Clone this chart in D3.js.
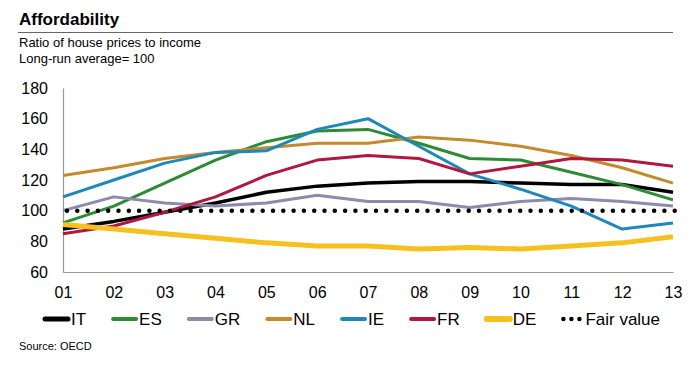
<!DOCTYPE html>
<html>
<head>
<meta charset="utf-8">
<script src="https://cdn.jsdelivr.net/npm/d3@7"></script>
<style>
  body { margin: 0; background: #fff; }
  svg { display: block; font-family: "Liberation Sans", Arial, sans-serif; }
</style>
</head>
<body>
<svg id="chart" width="699" height="368"></svg>
<script>
// years on the x axis (20xx)
var years = ["01", "02", "03", "04", "05", "06", "07", "08", "09", "10", "11", "12", "13"];
var yTicks = [60, 80, 100, 120, 140, 160, 180];

// ratio of house prices to income, long-run average = 100
var IT = [88, 93, 99, 105, 112, 116, 118, 119, 119, 118, 117, 117, 112];
var ES = [92, 103, 118, 133, 145, 152, 153, 144, 134, 133, 125, 117, 107];
var GR = [100, 109, 105, 103, 105, 110, 106, 106, 102, 106, 108, 106, 103];
var NL = [123, 128, 134, 138, 141, 144, 144, 148, 146, 142, 136, 128, 118];
var IE = [109, 120, 131, 138, 139, 153, 160, 142, 124, 114, 103, 88, 92];
var FR = [85, 90, 99, 109, 123, 133, 136, 134, 124, 129, 134, 133, 129];
var DE = [91, 88, 85, 82, 79, 77, 77, 75, 76, 75, 77, 79, 83];
var fairValue = [100, 100, 100, 100, 100, 100, 100, 100, 100, 100, 100, 100, 100];

var series = [
  {name: "IT", values: IT, color: "#000000", width: 3.5},
  {name: "ES", values: ES, color: "#2e8b35", width: 3},
  {name: "GR", values: GR, color: "#8b8bae", width: 3},
  {name: "NL", values: NL, color: "#c48a2c", width: 3},
  {name: "IE", values: IE, color: "#1f88ba", width: 3},
  {name: "FR", values: FR, color: "#b0183f", width: 3},
  {name: "DE", values: DE, color: "#f6c11e", width: 5}
];

var svg = d3.select("#chart");

// header
svg.append("text").attr("x", 19).attr("y", 25)
  .style("font-size", "17px").style("font-weight", "bold").text("Affordability");
svg.append("line").attr("x1", 18).attr("x2", 673).attr("y1", 32.5).attr("y2", 32.5)
  .attr("stroke", "#666").attr("stroke-width", 1.2);
svg.append("text").attr("x", 19).attr("y", 47).style("font-size", "13px").text("Ratio of house prices to income");
svg.append("text").attr("x", 19).attr("y", 63).style("font-size", "13px").text("Long-run average= 100");

var x = d3.scalePoint().domain(years).range([63, 673]);
var y = d3.scaleLinear().domain([60, 180]).range([272, 88]);

// axes, no tick marks
var yAxis = svg.append("g").attr("transform", "translate(63,0)")
  .call(d3.axisLeft(y).tickValues(yTicks).tickSize(0).tickPadding(15));
var xAxis = svg.append("g").attr("transform", "translate(0,272)")
  .call(d3.axisBottom(x).tickSize(0).tickPadding(15));
[xAxis, yAxis].forEach(function (a) {
  a.select(".domain").attr("stroke", "#999").attr("stroke-width", 1.2);
  a.selectAll("text").style("font-size", "16px").attr("fill", "#000")
    .style("font-family", "Liberation Sans, Arial, sans-serif");
});

var line = d3.line()
  .x(function (d, i) { return x(years[i]); })
  .y(function (d) { return y(d); });

svg.append("g").selectAll("path")
  .data(series)
  .enter().append("path")
  .attr("d", function (d) { return line(d.values); })
  .attr("fill", "none")
  .attr("stroke", function (d) { return d.color; })
  .attr("stroke-width", function (d) { return d.width; })
  .attr("stroke-linejoin", "round");

// fair value dotted line
svg.append("path")
  .attr("d", line(fairValue))
  .attr("transform", "translate(4,0)")
  .attr("fill", "none")
  .attr("stroke", "#000")
  .attr("stroke-width", 4.5)
  .attr("stroke-linecap", "round")
  .attr("stroke-dasharray", "0,10.3");

// legend
var lx = 43, ly = 319;
var legendItems = series.concat([{name: "Fair value", dotted: true}]);
legendItems.forEach(function (d) {
  var g = svg.append("g").attr("transform", "translate(" + lx + "," + ly + ")");
  if (d.dotted) {
    g.append("line").attr("x1", 2).attr("x2", 20).attr("y1", 0).attr("y2", 0)
      .attr("stroke", "#000").attr("stroke-width", 4.5)
      .attr("stroke-linecap", "round").attr("stroke-dasharray", "0,8");
  } else {
    g.append("line").attr("x1", 2).attr("x2", 25).attr("y1", 0).attr("y2", 0)
      .attr("stroke", d.color).attr("stroke-width", d.name == "DE" ? 6 : (d.name == "IT" ? 5 : 4))
      .attr("stroke-linecap", "round");
  }
  var tx = d.dotted ? 24 : 28;
  var t = g.append("text").attr("x", tx).attr("y", 6)
    .style("font-size", "17px").text(d.name);
  lx += tx + t.node().getComputedTextLength() + 25;
});

svg.append("text").attr("x", 19).attr("y", 350).style("font-size", "11px").text("Source: OECD");
</script>
</body>
</html>
